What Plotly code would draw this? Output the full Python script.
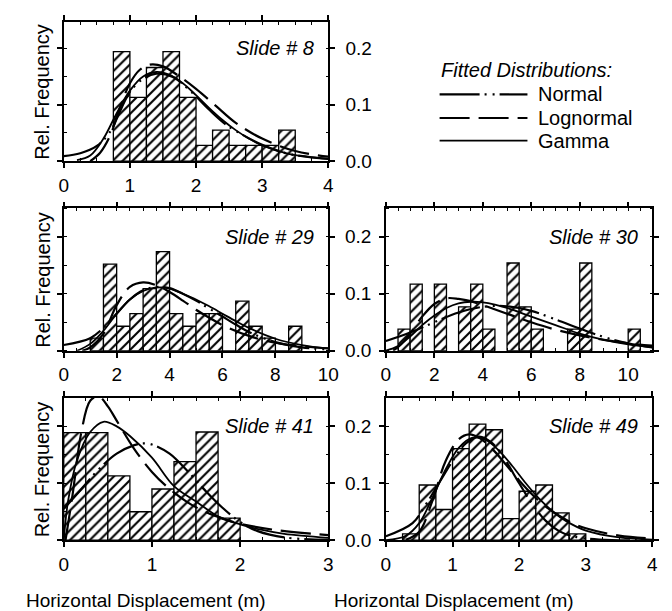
import plotly.graph_objects as go

W, H = 672, 611
FONT = "Liberation Sans, Arial, Helvetica, sans-serif"

# ---------------- data ----------------
# Slide # 8
s8_bins = [0.875, 1.125, 1.375, 1.625, 1.875, 2.125, 2.375, 2.625, 2.875, 3.125, 3.375]
s8_freq = [0.194, 0.113, 0.166, 0.194, 0.113, 0.028, 0.055, 0.028, 0.028, 0.028, 0.055]
s8_normal_x = [0, 0.25, 0.5, 0.7, 0.85, 1.0, 1.2, 1.4, 1.65, 1.9, 2.2, 2.45, 2.7, 3.0, 3.4, 4.0]
s8_normal_y = [0.009, 0.014, 0.027, 0.052, 0.088, 0.123, 0.146, 0.155, 0.149, 0.126, 0.091, 0.065, 0.047, 0.029, 0.013, 0.004]
s8_lognormal_x = [0.4, 0.55, 0.7, 0.85, 1.0, 1.15, 1.3, 1.5, 1.75, 2.0, 2.3, 2.6, 3.0, 3.5, 4.0]
s8_lognormal_y = [0.0, 0.015, 0.045, 0.095, 0.138, 0.162, 0.171, 0.168, 0.15, 0.128, 0.098, 0.068, 0.04, 0.018, 0.008]
s8_gamma_x = [0.2, 0.4, 0.6, 0.8, 1.0, 1.2, 1.4, 1.6, 1.8, 2.0, 2.2, 2.4, 2.6, 2.8, 3.0, 3.4, 4.0]
s8_gamma_y = [0.002, 0.01, 0.04, 0.085, 0.125, 0.15, 0.158, 0.153, 0.138, 0.117, 0.094, 0.073, 0.055, 0.04, 0.028, 0.013, 0.004]

# Slide # 29
s29_bins = [1.25, 1.75, 2.25, 2.75, 3.25, 3.75, 4.25, 4.75, 5.25, 5.75, 6.25, 6.75, 7.25, 7.75, 8.25, 8.75]
s29_freq = [0.022, 0.152, 0.043, 0.065, 0.109, 0.174, 0.065, 0.043, 0.065, 0.065, 0.0, 0.087, 0.043, 0.022, 0.0, 0.043]
s29_normal_x = [0, 1, 1.5, 2, 2.5, 3, 3.5, 4, 4.5, 5, 5.5, 6, 6.5, 7, 8, 9, 10]
s29_normal_y = [0.01, 0.022, 0.04, 0.065, 0.09, 0.106, 0.112, 0.11, 0.1, 0.088, 0.074, 0.06, 0.046, 0.033, 0.015, 0.006, 0.002]
s29_lognormal_x = [0.7, 1.0, 1.5, 2.0, 2.5, 3.0, 3.5, 4.0, 4.5, 5.0, 5.5, 6.0, 7.0, 8.0, 9.0, 10.0]
s29_lognormal_y = [0.0, 0.006, 0.03, 0.08, 0.112, 0.12, 0.115, 0.103, 0.088, 0.072, 0.058, 0.045, 0.026, 0.014, 0.008, 0.004]
s29_gamma_x = [0.5, 1, 1.5, 2, 2.5, 3, 3.5, 4, 4.5, 5, 5.5, 6, 6.5, 7, 8, 9, 10]
s29_gamma_y = [0.0, 0.012, 0.035, 0.065, 0.09, 0.105, 0.111, 0.109, 0.1, 0.09, 0.078, 0.065, 0.052, 0.04, 0.021, 0.01, 0.004]

# Slide # 30
s30_bins = [0.75, 1.25, 2.25, 3.25, 3.75, 4.25, 5.25, 5.75, 6.25, 7.75, 8.25, 10.25]
s30_freq = [0.038, 0.117, 0.117, 0.077, 0.117, 0.038, 0.154, 0.077, 0.038, 0.038, 0.154, 0.038]
s30_normal_x = [0, 1, 2, 3, 4, 5, 6, 7, 8, 9, 10, 11]
s30_normal_y = [0.017, 0.032, 0.05, 0.067, 0.077, 0.078, 0.07, 0.055, 0.039, 0.024, 0.013, 0.006]
s30_lognormal_x = [0.3, 0.6, 1.0, 1.5, 2.0, 2.5, 3.0, 3.5, 4.0, 5.0, 6.0, 7.0, 8.0, 9.0, 10.0, 11.0]
s30_lognormal_y = [0.0, 0.01, 0.03, 0.06, 0.082, 0.092, 0.091, 0.087, 0.08, 0.065, 0.05, 0.037, 0.027, 0.019, 0.013, 0.009]
s30_gamma_x = [0, 0.5, 1, 1.5, 2, 2.5, 3, 3.5, 4, 4.5, 5, 6, 7, 8, 9, 10, 11]
s30_gamma_y = [0.0, 0.008, 0.025, 0.045, 0.062, 0.075, 0.083, 0.086, 0.085, 0.081, 0.075, 0.06, 0.045, 0.03, 0.019, 0.011, 0.006]

# Slide # 41
s41_bins = [0.125, 0.375, 0.625, 0.875, 1.125, 1.375, 1.625, 1.875]
s41_freq = [0.189, 0.189, 0.113, 0.05, 0.09, 0.138, 0.19, 0.039]
s41_normal_x = [0, 0.2, 0.4, 0.6, 0.8, 0.9, 1.0, 1.2, 1.4, 1.6, 1.8, 2.0, 2.2, 2.5, 3.0]
s41_normal_y = [0.055, 0.09, 0.125, 0.152, 0.167, 0.17, 0.168, 0.152, 0.122, 0.088, 0.057, 0.032, 0.016, 0.005, 0.0005]
s41_lognormal_x = [0.02, 0.1, 0.2, 0.3, 0.4, 0.5, 0.6, 0.8, 1.0, 1.2, 1.4, 1.6, 1.8, 2.0, 2.4, 3.0]
s41_lognormal_y = [0.0, 0.08, 0.19, 0.245, 0.252, 0.235, 0.21, 0.16, 0.12, 0.09, 0.067, 0.05, 0.038, 0.029, 0.018, 0.009]
s41_gamma_x = [0, 0.05, 0.15, 0.3, 0.45, 0.6, 0.75, 1.0, 1.25, 1.5, 1.75, 2.0, 2.25, 2.5, 3.0]
s41_gamma_y = [0.0, 0.07, 0.14, 0.19, 0.208, 0.2, 0.183, 0.145, 0.095, 0.068, 0.042, 0.028, 0.018, 0.011, 0.004]

# Slide # 49
s49_bins = [0.375, 0.625, 0.875, 1.125, 1.375, 1.625, 1.875, 2.125, 2.375, 2.625, 2.875]
s49_freq = [0.011, 0.097, 0.054, 0.161, 0.204, 0.194, 0.038, 0.086, 0.097, 0.048, 0.011]
s49_normal_x = [0, 0.4, 0.6, 0.8, 1.0, 1.2, 1.4, 1.6, 1.8, 2.0, 2.2, 2.4, 2.6, 2.8, 3.2, 4.0]
s49_normal_y = [0.007, 0.03, 0.063, 0.101, 0.139, 0.17, 0.182, 0.17, 0.139, 0.1, 0.063, 0.034, 0.016, 0.007, 0.001, 0.0]
s49_lognormal_x = [0.3, 0.5, 0.7, 0.9, 1.1, 1.25, 1.4, 1.6, 1.8, 2.0, 2.2, 2.4, 2.6, 2.8, 3.0, 3.5, 4.0]
s49_lognormal_y = [0.001, 0.015, 0.07, 0.14, 0.178, 0.186, 0.18, 0.16, 0.133, 0.105, 0.08, 0.059, 0.043, 0.03, 0.021, 0.008, 0.003]
s49_gamma_x = [0, 0.3, 0.5, 0.7, 0.9, 1.1, 1.3, 1.5, 1.7, 1.9, 2.1, 2.3, 2.5, 2.7, 3.0, 3.5, 4.0]
s49_gamma_y = [0.0, 0.008, 0.03, 0.075, 0.125, 0.163, 0.18, 0.176, 0.157, 0.13, 0.1, 0.073, 0.051, 0.034, 0.017, 0.005, 0.001]

x_title = "Horizontal Displacement (m)"
y_title = "Rel. Frequency"
legend_title = "Fitted Distributions:"
legend_names = ["Normal", "Lognormal", "Gamma"]

# ---------------- layout helpers ----------------
def px_x(p):
    return p / W

def px_y(p):
    return 1 - p / H

COL_L = [px_x(52), px_x(323)]
COL_R = [px_x(382), px_x(655)]
ROW1 = [px_y(156), px_y(14)]
ROW2 = [px_y(349), px_y(204)]
ROW3 = [px_y(542), px_y(397)]

STYLES = {
    "Normal": dict(color="black", width=2.2, dash="40px,5px,2px,6px,2px,5px"),
    "Lognormal": dict(color="black", width=2.2, dash="30px,9px"),
    "Gamma": dict(color="black", width=1.8, dash="solid"),
}

panels = [
    dict(label="Slide # 8", n="", bins=s8_bins, freq=s8_freq, bw=0.25,
         curves=[(s8_normal_x, s8_normal_y), (s8_lognormal_x, s8_lognormal_y), (s8_gamma_x, s8_gamma_y)],
         xr=[0, 4], yr=[0, 0.247], dt=1, mdt=0.25, col=COL_L, row=ROW1, ylabels=False),
    dict(label="Slide # 29", n="2", bins=s29_bins, freq=s29_freq, bw=0.5,
         curves=[(s29_normal_x, s29_normal_y), (s29_lognormal_x, s29_lognormal_y), (s29_gamma_x, s29_gamma_y)],
         xr=[0, 10], yr=[0, 0.25], dt=2, mdt=0.5, col=COL_L, row=ROW2, ylabels=False),
    dict(label="Slide # 30", n="3", bins=s30_bins, freq=s30_freq, bw=0.5,
         curves=[(s30_normal_x, s30_normal_y), (s30_lognormal_x, s30_lognormal_y), (s30_gamma_x, s30_gamma_y)],
         xr=[0, 11], yr=[0, 0.25], dt=2, mdt=0.5, col=COL_R, row=ROW2, ylabels=True),
    dict(label="Slide # 41", n="4", bins=s41_bins, freq=s41_freq, bw=0.25,
         curves=[(s41_normal_x, s41_normal_y), (s41_lognormal_x, s41_lognormal_y), (s41_gamma_x, s41_gamma_y)],
         xr=[0, 3], yr=[0, 0.25], dt=1, mdt=0.25, col=COL_L, row=ROW3, ylabels=False),
    dict(label="Slide # 49", n="5", bins=s49_bins, freq=s49_freq, bw=0.25,
         curves=[(s49_normal_x, s49_normal_y), (s49_lognormal_x, s49_lognormal_y), (s49_gamma_x, s49_gamma_y)],
         xr=[0, 4], yr=[0, 0.25], dt=1, mdt=0.25, col=COL_R, row=ROW3, ylabels=True),
]

fig = go.Figure()
layout = dict(
    width=W, height=H,
    margin=dict(l=0, r=0, t=0, b=0),
    paper_bgcolor="white", plot_bgcolor="white",
    font=dict(family=FONT, size=19, color="black"),
    showlegend=False,
    annotations=[], shapes=[],
)

for p in panels:
    xa = "x" + p["n"]
    ya = "y" + p["n"]
    fig.add_trace(go.Bar(
        x=p["bins"], y=p["freq"], width=p["bw"], xaxis=xa, yaxis=ya,
        marker=dict(color="white", line=dict(color="black", width=1.3),
                    pattern=dict(shape="/", fgcolor="black", bgcolor="white",
                                 fgopacity=1, size=7, solidity=0.3)),
        hoverinfo="skip",
    ))
    for name, (cx, cy) in zip(legend_names, p["curves"]):
        fig.add_trace(go.Scatter(
            x=cx, y=cy, mode="lines", xaxis=xa, yaxis=ya, name=name,
            line=dict(shape="spline", smoothing=1.0, **STYLES[name]),
        ))
    xkey = "xaxis" + p["n"]
    ykey = "yaxis" + p["n"]
    layout[xkey] = dict(
        domain=p["col"], range=p["xr"], anchor=ya,
        showline=True, linecolor="black", linewidth=1.6, mirror="allticks",
        ticks="outside", ticklen=5, tickwidth=1.5, tickcolor="black",
        tick0=0, dtick=p["dt"],
        minor=dict(dtick=p["mdt"], ticks="inside", ticklen=3, tickwidth=1, tickcolor="black"),
        showgrid=False, zeroline=False, tickfont=dict(size=19),
        ticklabelstandoff=1,
    )
    layout[ykey] = dict(
        domain=p["row"], range=p["yr"], anchor=xa,
        showline=True, linecolor="black", linewidth=1.6, mirror="allticks",
        ticks="outside", ticklen=5, tickwidth=1.5, tickcolor="black",
        tick0=0, dtick=0.1, tickformat=".1f",
        minor=dict(dtick=0.05, ticks="inside", ticklen=3, tickwidth=1, tickcolor="black"),
        showgrid=False, zeroline=False, showticklabels=p["ylabels"],
        tickfont=dict(size=19), ticklabelstandoff=4,
    )
    layout["annotations"].append(dict(
        text="<i>" + p["label"] + "</i>", xref=xa + " domain", yref=ya,
        x=0.955, y=0.2, xanchor="right", yanchor="middle", showarrow=False,
        font=dict(size=20),
    ))

# invisible top-right subplot that only carries y tick labels
fig.add_trace(go.Scatter(x=[None], y=[None], xaxis="x6", yaxis="y6", mode="lines", hoverinfo="skip"))
layout["xaxis6"] = dict(domain=COL_R, range=[0, 1], anchor="y6", visible=False)
layout["yaxis6"] = dict(
    domain=ROW1, range=[0, 0.247], anchor="x6", showline=False, ticks="",
    tick0=0, dtick=0.1, tickformat=".1f", showgrid=False, zeroline=False,
    tickfont=dict(size=19), ticklabelstandoff=13,
)

# axis titles
for row in (ROW1, ROW2, ROW3):
    layout["annotations"].append(dict(
        text=y_title, xref="paper", yref="paper", x=px_x(30), y=(row[0] + row[1]) / 2,
        textangle=-90, xanchor="center", yanchor="middle", showarrow=False, font=dict(size=20),
    ))
for cx in (136, 452):
    layout["annotations"].append(dict(
        text=x_title, xref="paper", yref="paper", x=px_x(cx), y=px_y(603),
        xanchor="center", yanchor="middle", showarrow=False, font=dict(size=19),
    ))

# legend
layout["annotations"].append(dict(
    text="<i>" + legend_title + "</i>", xref="paper", yref="paper", x=px_x(436), y=px_y(63),
    xanchor="left", yanchor="middle", showarrow=False, font=dict(size=20),
))
for name, yy in zip(legend_names, (88, 112, 135)):
    st = STYLES[name]
    layout["shapes"].append(dict(
        type="line", xref="paper", yref="paper", x0=px_x(437), x1=px_x(527), y0=px_y(yy), y1=px_y(yy),
        line=dict(color="black", width=st["width"], dash=st["dash"]),
    ))
    layout["annotations"].append(dict(
        text=name, xref="paper", yref="paper", x=px_x(536), y=px_y(yy),
        xanchor="left", yanchor="middle", showarrow=False, font=dict(size=20),
    ))

fig.update_layout(**layout)
fig.write_html("out.html")
